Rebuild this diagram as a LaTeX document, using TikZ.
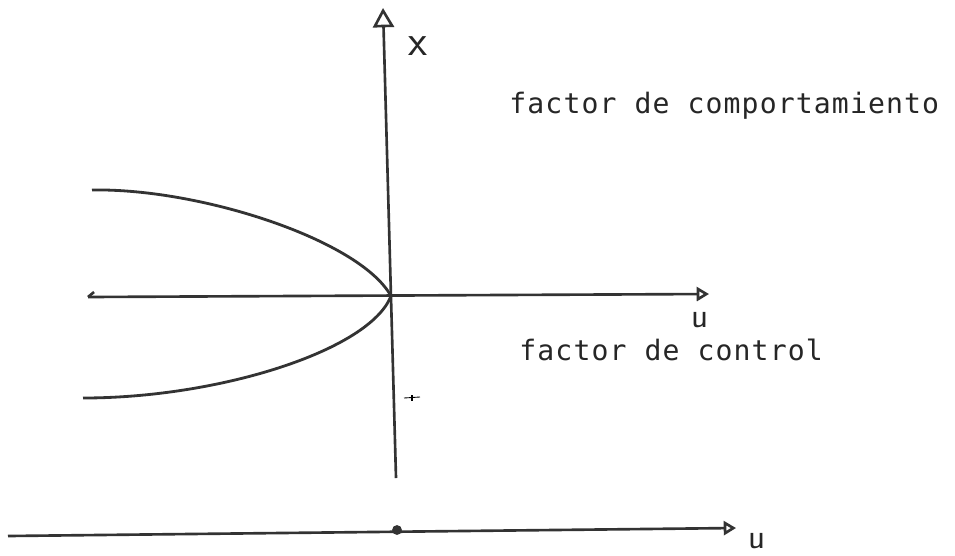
\documentclass[tikz,border=0pt]{standalone}
\usepackage{fontspec}
\newfontfamily\typefont[LetterSpace=4]{DejaVu Sans Mono}
\usetikzlibrary{arrows.meta}
\tikzset{
  axis/.style={line width=1.5pt, draw=black!80},
  curve/.style={line width=1.6pt, draw=black!80},
  typed/.style={font=\typefont\fontsize{16}{19}\selectfont, anchor=base west, inner sep=0pt, text=black!85},
  hand/.style={font=\sffamily\fontsize{20}{20}\selectfont, inner sep=0pt, text=black!85},
  tip/.style={-{Triangle[open, length=7pt, width=8pt]}},
  bigtip/.style={-{Triangle[open, length=11pt, width=12pt]}}
}
\begin{document}
\begin{tikzpicture}[x=0.02cm,y=-0.02cm]
\useasboundingbox (0,0) rectangle (955,555);
\fill[white] (0,0) rectangle (955,555);

% axes end points
\coordinate (O) at (391,296);
\coordinate (xtop) at (383,8);
\coordinate (xbot) at (396,478);
\coordinate (uleft) at (88,297);
\coordinate (uright) at (709,294);

% control line at the bottom
\coordinate (cleft) at (8,536);
\coordinate (cright) at (736,528);
\coordinate (cdot) at (397,530);

% vertical axis (behaviour) and horizontal axis (control)
\draw[axis, bigtip] (xbot) -- (xtop);
\draw[axis, tip] (uleft) -- (uright);
\draw[axis] (uleft) -- ++(6,-5);

% the two branches meeting at the origin
\draw[curve] (92,190) .. controls (200,188) and (360,240) .. (O);
\draw[curve] (O) .. controls (370,350) and (220,398) .. (83,398);

% stray mark under the axis
\draw[line width=0.5pt] (404,398) -- (420,397);
\draw[line width=0.9pt] (412,395) -- (412,401);

% bottom line with the fold point
\draw[axis, tip] (cleft) -- (cright);
\fill[black!80] (cdot) circle (2.8pt);

% labels
\node[hand, font=\sffamily\fontsize{25}{25}\selectfont] (xlab) at (418,46) {x};
\node[hand] (ulab) at (700,320) {u};
\node[hand] (ulabc) at (757,541) {u};
\node[typed] (behav) at (509,113) {factor de comportamiento};
\node[typed] (ctrl) at (519,360) {factor de control};
\end{tikzpicture}
\end{document}
